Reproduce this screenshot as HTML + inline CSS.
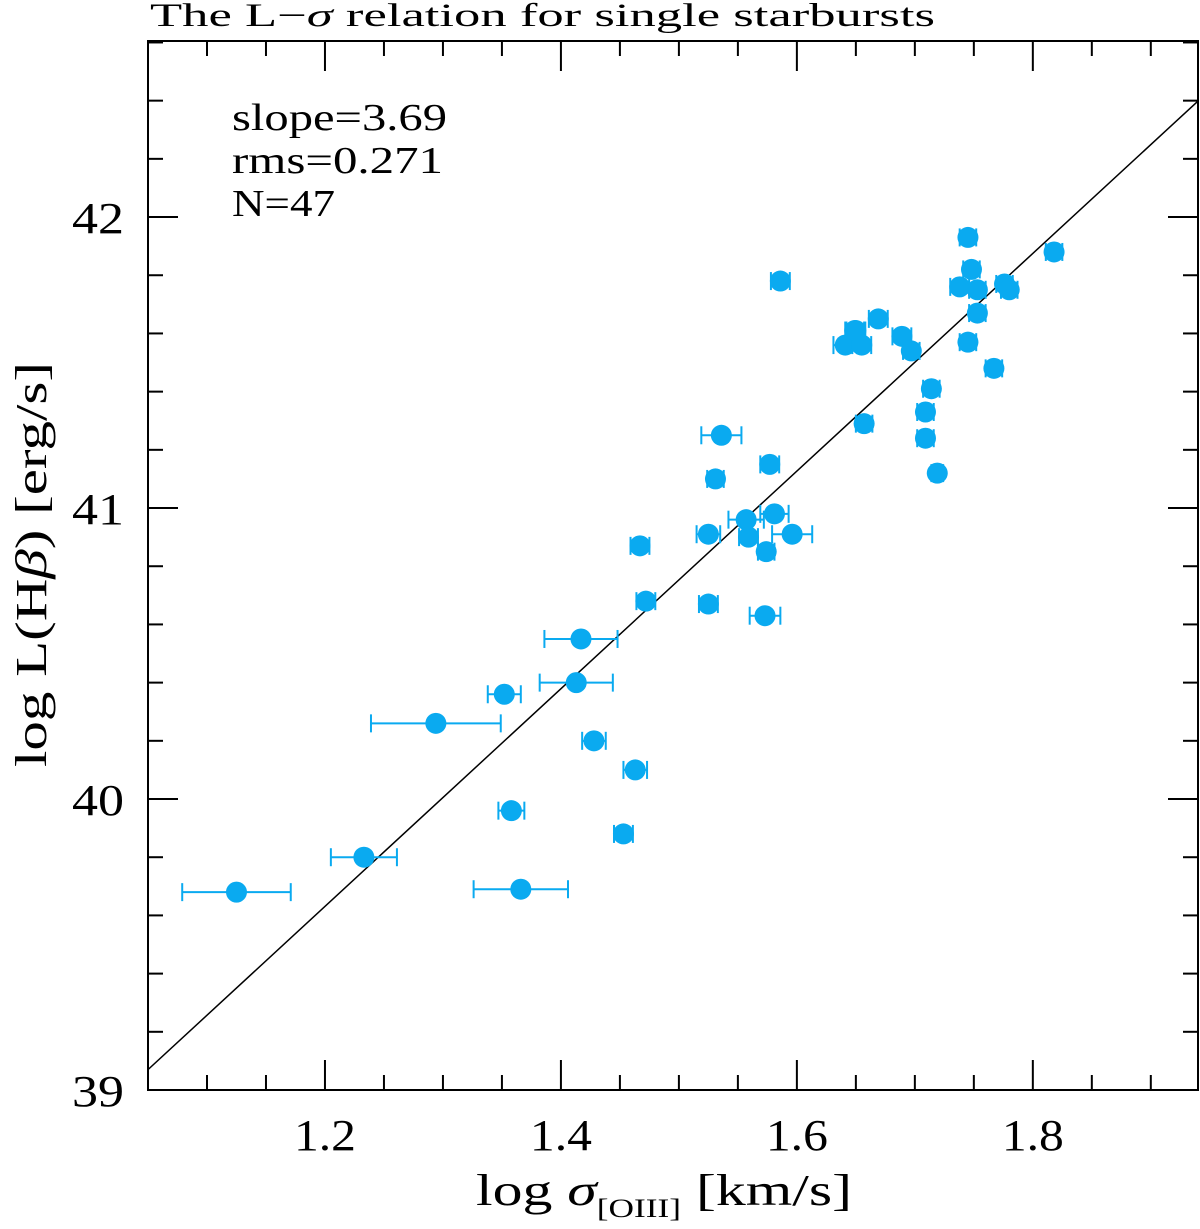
<!DOCTYPE html>
<html><head><meta charset="utf-8"><style>
body{margin:0;background:#fff;}
svg text{font-family:"Liberation Serif",serif;fill:#000;}
</style></head><body>
<svg id="c" width="1200" height="1224" xmlns="http://www.w3.org/2000/svg"></svg>
<script>
const xs=[1.125,1.233,1.366,1.294,1.352,1.358,1.413,1.417,1.428,1.453,1.463,1.467,1.472,1.525,1.525,1.531,1.536,1.557,1.559,1.574,1.581,1.596,1.573,1.577,1.586,1.641,1.649,1.655,1.657,1.669,1.689,1.697,1.714,1.709,1.709,1.719,1.745,1.748,1.738,1.753,1.753,1.745,1.767,1.776,1.780,1.818,1.650];
const ys=[39.68,39.80,39.69,40.26,40.36,39.96,40.40,40.55,40.20,39.88,40.10,40.87,40.68,40.67,40.91,41.10,41.25,40.96,40.90,40.85,40.98,40.91,40.63,41.15,41.78,41.56,41.61,41.56,41.29,41.65,41.59,41.54,41.41,41.33,41.24,41.12,41.93,41.82,41.76,41.75,41.67,41.57,41.48,41.77,41.75,41.88,41.61];
const xerr=[0.046,0.028,0.040,0.055,0.014,0.011,0.031,0.031,0.010,0.008,0.010,0.008,0.008,0.008,0.010,0.007,0.017,0.015,0.008,0.007,0.012,0.017,0.013,0.008,0.008,0.010,0.008,0.008,0.007,0.008,0.008,0.007,0.007,0.007,0.007,0.005,0.007,0.007,0.008,0.007,0.007,0.007,0.007,0.007,0.007,0.007,0.008];
const xTicks=[1.2,1.4,1.6,1.8];
const yTicks=[39,40,41,42];
const slope=3.74, intercept0=39.07;
const L=148,R=1198,T=41,B=1090,X0=1.05,X1=1.94,Y0=39,Y1=42.605;
const sx=v=>L+(v-X0)/(X1-X0)*(R-L);
const sy=v=>B-(v-Y0)/(Y1-Y0)*(B-T);
const svg=document.getElementById('c');const NS='http://www.w3.org/2000/svg';
function mk(t,a,p){const e=document.createElementNS(NS,t);for(const k in a)e.setAttribute(k,a[k]);(p||svg).appendChild(e);return e;}
const clip=mk('clipPath',{id:'cp'});mk('rect',{x:L,y:T,width:R-L,height:B-T},clip);
const frame=mk('rect',{x:L,y:T,width:R-L,height:B-T,fill:'none',stroke:'#000','stroke-width':2});


for(let i=0;i<=20;i++){const v=+(1.05+i*0.05).toFixed(2);if(v>X1)break;const x=sx(v);const maj=xTicks.some(t=>Math.abs(t-v)<1e-6);const len=maj?30:15;
mk('line',{x1:x,y1:B,x2:x,y2:B-len,stroke:'#000','stroke-width':2});mk('line',{x1:x,y1:T,x2:x,y2:T+len,stroke:'#000','stroke-width':2});}
for(let i=0;i<=20;i++){const v=+(39+i*0.2).toFixed(2);if(v>Y1)break;const y=sy(v);const maj=yTicks.some(t=>Math.abs(t-v)<1e-6);const len=maj?30:15;
mk('line',{x1:L,y1:y,x2:L+len,y2:y,stroke:'#000','stroke-width':2});mk('line',{x1:R,y1:y,x2:R-len,y2:y,stroke:'#000','stroke-width':2});}
xTicks.forEach(v=>{const t=mk('text',{x:sx(v),y:1150,'text-anchor':'middle','font-size':44,textLength:62,lengthAdjust:'spacingAndGlyphs'});t.textContent=v.toFixed(1);

});
yTicks.forEach(v=>{const t=mk('text',{x:124,y:sy(v)+16,'text-anchor':'end','font-size':44,textLength:52,lengthAdjust:'spacingAndGlyphs'});t.textContent=v;

});
const fl=mk('line',{x1:sx(X0),y1:sy(intercept0),x2:sx(X1),y2:sy(intercept0+slope*(X1-X0)),stroke:'#000','stroke-width':1.5,'clip-path':'url(#cp)'});


const col='#0aaaf0';
xs.forEach((v,i)=>{const g=mk('g',{});


const y=sy(ys[i]),a=sx(v-xerr[i]),b=sx(v+xerr[i]);
mk('line',{x1:a,y1:y,x2:b,y2:y,stroke:col,'stroke-width':2},g);
mk('line',{x1:a,y1:y-9,x2:a,y2:y+9,stroke:col,'stroke-width':2},g);
mk('line',{x1:b,y1:y-9,x2:b,y2:y+9,stroke:col,'stroke-width':2},g);
mk('circle',{cx:sx(v),cy:y,r:10.5,fill:col},g);});
function txt(s,x,y,fs,name,len,rot){const t=mk('text',{x:x,y:y,'font-size':fs});t.innerHTML=s;if(len){t.setAttribute('textLength',len);t.setAttribute('lengthAdjust','spacingAndGlyphs');}if(rot)t.setAttribute('transform',rot);

return t;}
txt('The L&#8722;<tspan font-style="italic">σ</tspan> relation for single starbursts',150,26,33,'chart-title',785);
txt('slope=3.69',232,130,38,'slope-annotation',215);
txt('rms=0.271',232,173,38,'rms-annotation',211);
txt('N=47',232,216,38,'n-annotation',103);
txt('log <tspan font-style="italic">σ</tspan><tspan font-size="26" dy="12">[OIII]</tspan><tspan dy="-12"> [km/s]</tspan>',476,1205,44,'x-axis-title',376);
const yt=txt('log L(H<tspan font-style="italic">β</tspan>) [erg/s]',0,0,44,'y-axis-title',405,'translate(46,565) rotate(-90)');yt.setAttribute('x',-202);
</script>
</body></html>
